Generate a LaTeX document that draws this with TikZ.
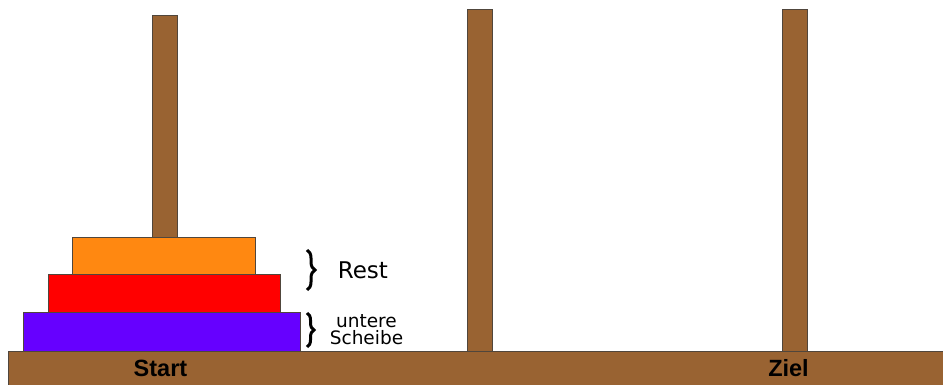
\documentclass[tikz,border=0pt]{standalone}
\usepackage{fontspec}
\setmainfont{DejaVu Sans}
\newfontfamily\labelfont{Liberation Sans}
\usetikzlibrary{positioning}
\usetikzlibrary{decorations.pathreplacing}

\definecolor{wood}{RGB}{153,99,50}
\definecolor{edge}{RGB}{80,70,60}
\definecolor{discorange}{RGB}{255,136,17}
\definecolor{discred}{RGB}{255,0,0}
\definecolor{discpurple}{RGB}{102,0,255}

\tikzset{
  peg/.style={draw=edge, fill=wood, minimum width=25pt, inner sep=0pt, outer sep=0pt, anchor=south},
  disc/.style={draw=edge, inner sep=0pt, outer sep=0pt},
  brace/.style={decorate, decoration={brace, amplitude=8pt}, line width=3pt},
}

\begin{document}
\begin{tikzpicture}[x=1pt, y=1pt, node distance=0pt]
\useasboundingbox (0,0) rectangle (943,385);

% base and pegs
\node[draw=edge, fill=wood, minimum width=935pt, minimum height=34pt, inner sep=0pt, outer sep=0pt, anchor=south west] (base) at (8,0) {};
\node[peg, minimum height=336pt] (p1) at (164.5,34) {};
\node[peg, minimum height=342pt] (p2) at (479.5,34) {};
\node[peg, minimum height=342pt] (p3) at (794.5,34) {};

\node[font=\labelfont\bfseries\fontsize{23.5}{26}\selectfont] (start) at (160.5,16.5) {Start};
\node[font=\labelfont\bfseries\fontsize{23.5}{26}\selectfont] (ziel) at (788.5,16.5) {Ziel};

% discs
\node[disc, fill=discpurple, minimum width=277pt, minimum height=39pt, anchor=south] (d1) at (161.5,34) {};
\node[disc, fill=discred, minimum width=232pt, minimum height=38pt, above=of d1, xshift=2.5pt] (d2) {};
\node[disc, fill=discorange, minimum width=183pt, minimum height=37pt, above=of d2] (d3) {};

% braces
\coordinate (r1) at (307,135);
\coordinate (r2) at (307,95);
\coordinate (u1) at (307,72);
\coordinate (u2) at (307,38);

\draw[brace] (r1) -- node[right=26pt, font=\fontsize{23}{24}\selectfont] (rest) {Rest} (r2);
\draw[brace, decoration={amplitude=7pt}] (u1) -- node[right=18pt, align=center, font=\fontsize{18.5}{17}\selectfont] (lower) {untere\\Scheibe} (u2);

\end{tikzpicture}
\end{document}
